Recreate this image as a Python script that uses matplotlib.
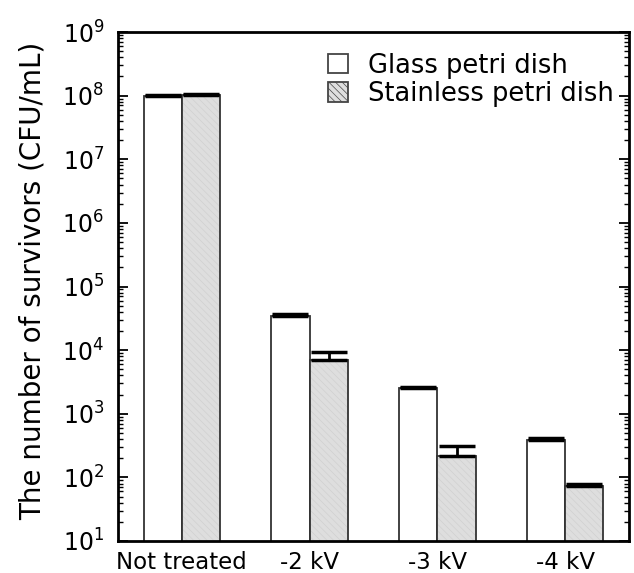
import matplotlib
matplotlib.use("Agg")
import matplotlib.pyplot as plt
import numpy as np
from matplotlib.ticker import FixedLocator, NullFormatter

categories = ["Not treated", "-2 kV", "-3 kV", "-4 kV"]
glass = [1.0e8, 3.5e4, 2.5e3, 3.85e2]
glass_err = [2.0e6, 1.5e3, 1.2e2, 3.5e1]
stainless = [1.02e8, 7.0e3, 2.2e2, 7.3e1]
stainless_err = [4.0e6, 2.3e3, 9.5e1, 4.5e0]
series_labels = ["Glass petri dish", "Stainless petri dish"]

plt.rcParams['font.family'] = ['DejaVu Sans']
plt.rcParams['hatch.linewidth'] = 0.5

fig = plt.figure(figsize=(6.34, 5.73), dpi=100)
ax = fig.add_axes([118/634, 1-541/573, (629-118)/634, (541-32)/573])

x = np.arange(len(categories))
w = 0.3
ekw = dict(elinewidth=2, capthick=2.5, ecolor='black')
b1 = ax.bar(x - w/2, glass, w, color='white', edgecolor='#333333', linewidth=1.3,
            yerr=[np.zeros(len(glass)), glass_err], capsize=13, error_kw=ekw,
            label=series_labels[0], zorder=2)
b2 = ax.bar(x + w/2, stainless, w, color='#dedede', edgecolor='#333333', linewidth=1.3,
            yerr=[np.zeros(len(stainless)), stainless_err], capsize=13, error_kw=ekw,
            label=series_labels[1], zorder=2)
for p in b2.patches:
    p.set_hatch('\\\\\\\\\\')
    p._hatch_color = matplotlib.colors.to_rgba('#d0d0d0')

ax.set_yscale('log')
ax.set_ylim(10, 1e9)
ax.set_xlim(-0.5, 3.5)
ax.set_xticks(x)
ax.set_xticklabels(categories, fontsize=16.5)
ax.tick_params(axis='x', length=0, pad=7)
majors = [10.0 ** k for k in range(1, 10)]
minors = [m * 10.0 ** k for k in range(1, 9) for m in range(2, 10)]
ax.yaxis.set_major_locator(FixedLocator(majors))
ax.yaxis.set_minor_locator(FixedLocator(minors))
ax.yaxis.set_minor_formatter(NullFormatter())
ax.tick_params(axis='y', which='major', direction='in', length=7, width=1.3,
               right=True, labelsize=17, pad=10)
ax.tick_params(axis='y', which='minor', direction='in', length=3.5, width=1.0, right=True)
for s in ax.spines.values():
    s.set_linewidth(2)
ax.set_ylabel("The number of survivors (CFU/mL)", fontsize=20, labelpad=11)
ax.yaxis.label.set_y(0.512)

leg = ax.legend(loc='upper right', bbox_to_anchor=(1.0, 0.99), frameon=False,
                fontsize=18.5, handlelength=0.8, handleheight=0.8, handletextpad=0.75,
                labelspacing=0.1, borderaxespad=0.2)
for h in leg.legend_handles:
    h.set_edgecolor('#444444')

fig.savefig("out.png", dpi=100)
